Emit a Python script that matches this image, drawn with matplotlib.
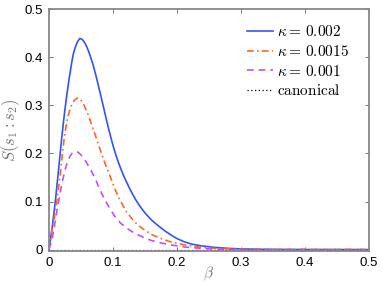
import matplotlib
matplotlib.use("Agg")
import matplotlib.pyplot as plt

plt.rcParams['mathtext.fontset'] = 'cm'
plt.rcParams['font.family'] = ['Liberation Sans', 'DejaVu Sans']

beta_blue = [0, 0.005, 0.010, 0.015, 0.020, 0.024, 0.0276, 0.031, 0.0354, 0.038,
             0.041, 0.0445, 0.0484, 0.052, 0.055, 0.058, 0.0615, 0.065, 0.069,
             0.0734, 0.078, 0.0823, 0.086, 0.090, 0.095, 0.100, 0.105, 0.110,
             0.115, 0.120, 0.125, 0.130, 0.135, 0.140, 0.145, 0.150, 0.155,
             0.160, 0.165, 0.170, 0.180, 0.190, 0.200, 0.210, 0.220, 0.2255,
             0.240, 0.260, 0.280, 0.300, 0.330, 0.360, 0.400, 0.500]
S_blue = [0, 0.045, 0.100, 0.165, 0.232, 0.280, 0.318, 0.350, 0.387, 0.406,
          0.420, 0.432, 0.439, 0.437, 0.432, 0.425, 0.414, 0.401, 0.384,
          0.362, 0.337, 0.313, 0.292, 0.269, 0.242, 0.217, 0.195, 0.176,
          0.159, 0.144, 0.130, 0.117, 0.105, 0.0945, 0.085, 0.0765, 0.069,
          0.062, 0.056, 0.0505, 0.040, 0.031, 0.023, 0.017, 0.0127, 0.0108,
          0.0075, 0.0045, 0.0026, 0.0015, 0.0007, 0.0003, 0.0001, 0]

beta_orange = [0, 0.005, 0.0125, 0.018, 0.021, 0.024, 0.027, 0.030, 0.033, 0.036,
               0.040, 0.0445, 0.048, 0.052, 0.056, 0.0614, 0.0665, 0.0719, 0.076,
               0.080, 0.085, 0.090, 0.096, 0.103, 0.111, 0.121, 0.131, 0.140,
               0.150, 0.161, 0.173, 0.189, 0.210, 0.236, 0.260, 0.278, 0.31,
               0.35, 0.50]
S_orange = [0, 0.040, 0.100, 0.160, 0.198, 0.232, 0.259, 0.278, 0.292, 0.302,
            0.311, 0.315, 0.314, 0.307, 0.297, 0.280, 0.261, 0.240, 0.224,
            0.208, 0.189, 0.171, 0.151, 0.126, 0.103, 0.079, 0.062, 0.050,
            0.040, 0.031, 0.024, 0.0165, 0.0104, 0.005, 0.0025, 0.0015, 0.0006,
            0.0002, 0]

beta_purple = [0, 0.005, 0.010, 0.0151, 0.020, 0.024, 0.027, 0.030, 0.033, 0.036,
               0.039, 0.042, 0.046, 0.050, 0.055, 0.060, 0.066, 0.0719, 0.077,
               0.0823, 0.088, 0.095, 0.103, 0.112, 0.122, 0.134, 0.147, 0.160,
               0.173, 0.189, 0.215, 0.250, 0.30, 0.50]
S_purple = [0, 0.022, 0.060, 0.100, 0.135, 0.159, 0.174, 0.185, 0.194, 0.200,
            0.203, 0.204, 0.202, 0.197, 0.189, 0.178, 0.164, 0.149, 0.133,
            0.117, 0.102, 0.086, 0.069, 0.055, 0.044, 0.034, 0.026, 0.019,
            0.0145, 0.010, 0.005, 0.0015, 0.0003, 0]

beta_canon = [0, 0.5]
S_canon = [0, 0]

labels = [r'$\kappa{=}\,0.002$', r'$\kappa{=}\,0.0015$', r'$\kappa{=}\,0.001$',
          r'$\mathrm{canonical}$']

fig = plt.figure(figsize=(3.82, 2.84), dpi=100)
ax = fig.add_axes([0.128, 0.116, 0.838, 0.852])

ax.plot(beta_blue, S_blue, color='#3355ee', lw=1.2, label=labels[0])
ax.plot(beta_orange, S_orange, color='#ff6622', lw=1.2, linestyle=(0, (4, 2, 1, 2)), label=labels[1])
ax.plot(beta_purple, S_purple, color='#c050ff', lw=1.2, linestyle=(0, (4, 3)), label=labels[2])
ax.plot(beta_canon, S_canon, color='black', lw=0.9, linestyle=(0, (1, 2)), label=labels[3])

ax.set_xlim(0, 0.5)
ax.set_ylim(-0.003, 0.5)
ax.set_xticks([0, 0.1, 0.2, 0.3, 0.4, 0.5])
ax.set_xticklabels(['0', '0.1', '0.2', '0.3', '0.4', '0.5'])
ax.set_yticks([0, 0.1, 0.2, 0.3, 0.4, 0.5])
ax.set_yticklabels(['0', '0.1', '0.2', '0.3', '0.4', '0.5'])
ax.tick_params(direction='in', top=True, right=True, length=3, width=0.7,
               color='#777777', labelsize=9.5, pad=4)
for s in ax.spines.values():
    s.set_color('#888888')
    s.set_linewidth(1.3)

ax.set_xlabel(r'$\beta$', color='#777777', fontsize=11, labelpad=-3)
ax.set_ylabel(r'$S(s_1:s_2)$', color='#777777', fontsize=12, labelpad=2)

ax.legend(loc='upper right', bbox_to_anchor=(0.984, 1.0), frameon=False,
          fontsize=11, handlelength=1.7, handletextpad=0.25, labelspacing=0.3,
          borderaxespad=0.6)

fig.savefig('out.png', dpi=100)
